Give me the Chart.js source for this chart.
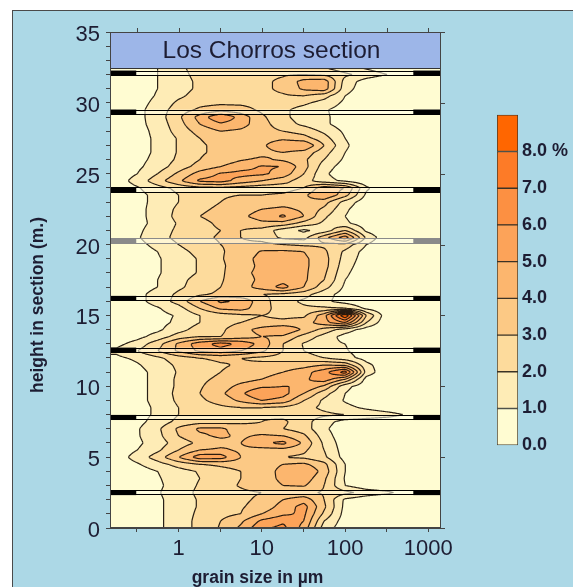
<!DOCTYPE html>
<html lang="en">
<head>
<meta charset="UTF-8">
<title>Los Chorros section</title>
<script src="https://cdn.jsdelivr.net/npm/chart.js"></script>
<style>
  body { margin: 0; background: #fff; font-family: "Liberation Sans", Arial, sans-serif; }
  .panel { position: absolute; left: 12px; top: 10px; width: 600px; height: 620px; background: #acd8e6; border: 1px solid #4a4a4a; }
  #grain { position: absolute; left: 12px; top: 10px; }
  #scale { position: absolute; left: 497px; top: 100px; }
</style>
</head>
<body>
<div class="panel"></div>
<canvas id="grain" width="460" height="577"></canvas>
<canvas id="scale" width="76" height="360"></canvas>
<script>
// sample heights (m) and grain size classes (µm)
const heights = [0, 0.5, 1, 1.5, 2, 2.5, 3, 3.5, 4, 4.5, 5, 5.5, 6, 6.5, 7, 7.5, 8, 8.5, 9, 9.5,
  10, 10.5, 11, 11.5, 12, 12.5, 13, 13.5, 14, 14.5, 15, 15.5, 16, 16.5, 17, 17.5, 18, 18.5, 19, 19.5,
  20, 20.5, 21, 21.5, 22, 22.5, 23, 23.5, 24, 24.5, 25, 25.5, 26, 26.5, 27, 27.5, 28, 28.5, 29, 29.5,
  30, 30.5, 31, 31.5, 32, 32.5];
const grainSize = [0.18, 0.32, 0.56, 1, 1.8, 3.2, 5.6, 10, 18, 32, 56, 100, 180, 320, 560, 1000];

// volume percent per height (rows) and grain size class (columns)
const percent = [
  [0.2,0.4,0.8,1.5,2.3,3.1,4.2,5.8,6.3,4.6,1.5,0.4,0.2,0.1,0,0],
  [0.2,0.4,0.8,1.5,2.3,3.0,3.8,5.2,5.8,5.0,2.0,0.5,0.2,0.1,0,0],
  [0.2,0.4,0.8,1.5,2.2,2.7,3.0,4.0,4.8,5.2,2.8,0.6,0.2,0.1,0,0],
  [0.2,0.4,0.8,1.5,2.1,2.5,2.9,3.4,4.4,5.4,3.2,0.7,0.2,0.1,0,0],
  [0.2,0.4,0.8,1.5,2.1,2.5,2.8,3.2,4.0,4.6,3.0,0.8,0.3,0.1,0,0],
  [0.3,0.5,0.9,1.6,2.2,2.6,2.8,3.0,3.2,3.2,2.9,2.3,1.6,1.2,0.6,0.1],
  [0.2,0.4,0.8,1.5,2.1,2.6,3.1,3.6,4.0,4.1,3.0,1.0,0.3,0.1,0,0],
  [0.2,0.4,0.9,1.5,2.0,2.5,3.0,3.6,4.2,4.6,3.2,0.9,0.2,0,0,0],
  [0.3,0.5,1.0,1.6,2.1,2.6,3.0,3.5,4.3,5.0,3.6,1.0,0.2,0,0,0],
  [0.4,0.9,1.6,2.4,3.0,3.2,3.4,3.6,4.0,4.2,3.3,1.0,0.2,0,0,0],
  [0.5,1.4,2.5,4.0,5.6,5.5,4.0,3.2,3.0,2.8,2.2,0.6,0.1,0,0,0],
  [0.4,1.0,1.8,3.0,4.0,4.2,3.8,3.6,3.6,3.2,2.0,0.5,0.1,0,0,0],
  [0.4,0.8,1.5,2.5,3.2,3.6,4.0,4.8,5.3,3.8,1.8,0.4,0.1,0,0,0],
  [0.4,0.9,1.7,3.0,3.8,4.2,3.8,4.2,4.0,3.2,1.5,0.3,0,0,0,0],
  [0.4,0.9,1.8,3.2,4.2,4.2,3.5,3.2,3.0,2.5,1.2,0.3,0,0,0,0],
  [0.3,0.7,1.4,2.3,2.6,2.6,2.8,3.0,3.2,2.4,1.4,0.6,0.4,0.3,0.2,0],
  [0.3,0.6,1.2,2.0,2.4,2.6,2.9,2.9,2.7,2.4,2.2,2.0,1.7,1.4,0.9,0.2],
  [0.3,0.6,1.2,2.0,2.5,2.8,3.0,3.0,2.8,2.3,1.8,1.3,0.8,0.4,0.1,0],
  [0.3,0.7,1.3,2.2,2.8,3.4,4.2,5.0,4.6,3.0,1.8,0.9,0.3,0,0,0],
  [0.3,0.7,1.3,2.3,3.0,3.8,4.8,6.0,5.4,4.0,2.4,1.0,0.3,0,0,0],
  [0.3,0.7,1.3,2.2,2.9,3.5,4.3,4.8,5.0,5.0,3.8,1.3,0.4,0.1,0,0],
  [0.3,0.7,1.3,2.2,2.8,3.2,3.6,4.0,4.5,4.8,5.6,4.0,0.6,0.1,0,0],
  [0.3,0.7,1.3,2.1,2.6,3.0,3.3,3.6,4.0,4.6,5.6,7.6,1.6,0.2,0,0],
  [0.4,0.9,1.5,2.2,2.6,2.9,3.1,3.2,3.4,3.6,4.0,3.8,1.3,0.3,0,0],
  [0.8,1.2,1.8,2.5,3.0,3.2,3.0,2.8,2.6,2.4,2.0,1.4,0.6,0.1,0,0],
  [1.2,2.0,3.0,4.2,5.2,5.6,5.0,4.2,3.0,2.0,1.5,1.1,0.5,0.1,0,0],
  [0.7,1.4,2.6,4.2,5.6,6.4,5.8,4.6,3.0,1.9,1.3,1.0,0.4,0,0,0],
  [0.3,0.7,1.4,2.5,3.0,3.0,3.5,4.0,3.8,2.6,1.6,0.6,0.2,0,0,0],
  [0.2,0.5,0.8,1.6,2.5,2.8,3.6,4.4,5.0,3.8,2.6,1.5,0.5,0,0,0],
  [0.2,0.4,0.7,1.2,2.0,2.6,3.0,3.2,3.2,3.5,4.6,6.0,2.0,0.2,0,0],
  [0.2,0.4,0.7,1.1,2.0,2.5,2.8,3.0,2.8,2.8,4.6,9.0,3.0,0.3,0,0],
  [0.2,0.5,0.9,1.6,3.0,4.2,4.4,3.4,2.5,2.2,2.2,2.0,0.8,0.1,0,0],
  [0.3,0.7,1.4,2.4,4.0,5.2,4.8,3.4,2.4,1.8,1.2,0.6,0.2,0,0,0],
  [0.3,0.7,1.4,2.2,2.8,3.2,3.2,3.0,2.8,2.4,1.4,0.6,0.2,0,0,0],
  [0.2,0.5,1.0,1.8,2.5,3.0,3.6,4.4,5.4,4.0,2.4,0.8,0.2,0,0,0],
  [0.2,0.5,1.0,1.7,2.4,2.9,3.6,4.2,4.6,4.2,3.0,1.0,0.3,0,0,0],
  [0.2,0.4,0.9,1.5,2.1,2.8,3.8,4.2,4.2,4.2,3.2,1.2,0.3,0,0,0],
  [0.2,0.4,0.9,1.5,2.1,2.8,3.6,4.2,4.3,4.2,3.4,1.4,0.4,0,0,0],
  [0.2,0.4,0.9,1.5,2.1,2.9,3.6,4.3,4.3,4.2,3.4,1.6,0.5,0,0,0],
  [0.3,0.5,1.0,1.7,2.3,2.9,3.4,4.1,4.2,4.0,3.2,1.8,0.6,0.1,0,0],
  [0.3,0.7,1.3,2.0,2.6,3.0,3.2,3.3,3.0,2.8,2.8,2.6,1.0,0.1,0,0],
  [0.4,0.9,1.6,2.3,2.8,3.1,3.0,2.6,1.8,1.6,3.6,5.6,1.8,0.2,0,0],
  [0.3,0.8,1.5,2.2,2.7,3.0,3.0,2.6,1.5,0.8,1.4,3.0,0.8,0.1,0,0],
  [0.3,0.7,1.3,2.1,2.7,3.2,3.4,3.8,3.6,2.6,1.8,1.2,0.4,0,0,0],
  [0.3,0.7,1.4,2.3,3.0,3.4,3.8,4.4,5.2,4.0,2.2,1.0,0.2,0,0,0],
  [0.3,0.7,1.4,2.2,2.8,3.2,3.6,4.0,4.2,3.8,2.8,1.2,0.2,0,0,0],
  [0.3,0.7,1.3,2.0,2.6,3.0,3.3,3.4,3.6,3.8,3.4,1.6,0.4,0,0,0],
  [0.3,0.7,1.3,2.0,2.6,2.9,3.0,3.0,3.2,3.8,5.0,3.4,0.8,0,0,0],
  [0.4,0.9,1.6,2.3,2.7,2.8,2.6,2.4,2.4,3.0,4.6,4.0,1.2,0.1,0,0],
  [0.5,1.4,2.6,3.8,5.2,5.4,4.6,4.0,3.4,2.4,1.4,0.8,0.2,0,0,0],
  [0.4,1.0,2.0,3.2,4.4,5.1,5.3,5.2,4.6,3.0,1.2,0.3,0,0,0,0],
  [0.3,0.8,1.5,2.5,3.4,4.0,4.6,5.1,5.0,3.4,1.5,0.5,0.1,0,0,0],
  [0.3,0.7,1.3,2.2,3.0,3.4,3.9,4.2,3.8,3.2,2.0,0.8,0.2,0,0,0],
  [0.3,0.6,1.2,2.1,2.9,3.2,3.4,3.7,4.0,3.6,2.4,1.0,0.2,0,0,0],
  [0.3,0.6,1.2,2.1,2.9,3.2,3.4,3.8,4.8,5.0,3.0,1.2,0.2,0,0,0],
  [0.3,0.6,1.2,2.1,3.0,3.3,3.4,3.6,3.8,3.4,2.4,1.0,0.2,0,0,0],
  [0.3,0.6,1.3,2.4,3.4,4.0,3.8,3.4,3.0,2.6,1.8,0.8,0.1,0,0,0],
  [0.3,0.7,1.4,2.6,4.0,4.8,4.4,3.4,2.4,1.8,1.2,0.5,0.1,0,0,0],
  [0.3,0.7,1.5,2.8,4.4,6.0,4.6,3.2,2.2,1.6,1.2,0.5,0.1,0,0,0],
  [0.3,0.7,1.5,2.5,3.2,3.6,3.4,2.8,2.2,1.6,1.1,0.6,0.1,0,0,0],
  [0.2,0.6,1.3,2.2,2.7,2.8,2.8,2.7,2.5,2.2,1.6,0.8,0.2,0,0,0],
  [0.2,0.5,1.1,1.8,2.4,2.6,2.7,2.8,2.9,3.0,2.4,1.0,0.3,0,0,0],
  [0.2,0.5,1.0,1.6,2.2,2.5,2.6,2.8,3.2,4.2,4.6,1.4,0.4,0,0,0],
  [0.2,0.5,1.0,1.6,2.2,2.5,2.6,2.8,3.2,4.4,4.6,1.6,0.5,0,0,0],
  [0.2,0.5,1.0,1.7,2.3,2.6,2.7,2.8,2.9,3.0,2.8,2.2,1.6,1.0,0.3,0],
  [0.2,0.5,1.0,1.8,2.4,2.6,2.6,2.6,2.6,2.4,2.0,1.4,0.8,0.3,0,0]
];

// contour classes (% steps) and their fills
const levelBounds = [0, 1, 2, 3, 4, 5, 6, 7, 8, 9];
const levelColors = ['#fffcd2', '#feecb6', '#fddb9c', '#fcc985', '#fcb66e', '#fca359', '#fc9042', '#fd7b27', '#ff6600'];
const scaleLabels = { 0: '0.0', 1: '1.0', 2: '2.0', 3: '3.0', 4: '4.0', 5: '5.0', 6: '6.0', 7: '7.0', 8: '8.0 %' };

// sample breaks marked across the section
const bedHeights = [2.5, 7.8, 12.55, 16.2, 23.85, 29.35, 32.1];
const greyBedHeights = [20.25];
const bedHalf = 0.18;
const bedMarkLeft = 0.31, bedMarkRight = 660;

const xTicks = [0.316, 1, 3.16, 10, 31.6, 100, 316, 1000];
const xLabels = [1, 10, 100, 1000];
const titleBottom = 32.45;

const ink = '#1d1d33';
const family = '"Liberation Sans", Arial, sans-serif';

function bracket(arr, v) {
  const n = arr.length;
  if (v <= arr[0]) return [0, 0];
  if (v >= arr[n - 1]) return [n - 2, 1];
  let k = 0;
  while (arr[k + 1] < v) k++;
  return [k, (v - arr[k]) / (arr[k + 1] - arr[k])];
}

function hexRgb(h) {
  return [parseInt(h.slice(1, 3), 16), parseInt(h.slice(3, 5), 16), parseInt(h.slice(5, 7), 16)];
}

const contourPlugin = {
  id: 'contour',
  beforeDatasetsDraw(chart) {
    const { ctx, chartArea: a, scales: { x, y } } = chart;
    const w = Math.round(a.right - a.left), h = Math.round(a.bottom - a.top);
    const off = document.createElement('canvas');
    off.width = w; off.height = h;
    const octx = off.getContext('2d');
    const img = octx.createImageData(w, h);
    const logs = grainSize.map(v => Math.log10(v));
    const cols = [], rows = [];
    for (let i = 0; i < w; i++) cols.push(bracket(logs, Math.log10(x.getValueForPixel(a.left + i + 0.5))));
    for (let j = 0; j < h; j++) rows.push(bracket(heights, y.getValueForPixel(a.top + j + 0.5)));

    // interpolated value at every pixel centre
    const val = new Float32Array(w * h);
    for (let j = 0; j < h; j++) {
      const [r, ty] = rows[j];
      const p0 = percent[r], p1 = percent[r + 1];
      for (let i = 0; i < w; i++) {
        const [c, tx] = cols[i];
        val[j * w + i] = (1 - ty) * ((1 - tx) * p0[c] + tx * p0[c + 1]) + ty * ((1 - tx) * p1[c] + tx * p1[c + 1]);
      }
    }

    // filled classes
    const rgb = levelColors.map(hexRgb);
    for (let k = 0; k < w * h; k++) {
      let l = 0;
      while (l < rgb.length - 1 && val[k] >= levelBounds[l + 1]) l++;
      const c = rgb[l];
      img.data[k * 4] = c[0]; img.data[k * 4 + 1] = c[1]; img.data[k * 4 + 2] = c[2]; img.data[k * 4 + 3] = 255;
    }
    octx.putImageData(img, 0, 0);
    ctx.drawImage(off, a.left, a.top, w, h);

    // contour lines (marching squares on the pixel grid)
    ctx.save();
    ctx.beginPath();
    ctx.rect(a.left, a.top, a.right - a.left, a.bottom - a.top);
    ctx.clip();
    ctx.strokeStyle = 'rgba(30,20,12,0.95)';
    ctx.lineWidth = 1.2;
    ctx.beginPath();
    const ox = a.left + 0.5, oy = a.top + 0.5;
    for (let li = 1; li < levelBounds.length; li++) {
      const t = levelBounds[li];
      for (let j = 0; j < h - 1; j++) {
        for (let i = 0; i < w - 1; i++) {
          const k = j * w + i;
          const v0 = val[k], v1 = val[k + 1], v2 = val[k + w + 1], v3 = val[k + w];
          const s0 = v0 >= t, s1 = v1 >= t, s2 = v2 >= t, s3 = v3 >= t;
          if (s0 === s1 && s1 === s2 && s2 === s3) continue;
          const pts = [];
          if (s0 !== s1) pts.push([i + (t - v0) / (v1 - v0), j]);
          if (s1 !== s2) pts.push([i + 1, j + (t - v1) / (v2 - v1)]);
          if (s3 !== s2) pts.push([i + (t - v3) / (v2 - v3), j + 1]);
          if (s0 !== s3) pts.push([i, j + (t - v0) / (v3 - v0)]);
          for (let p = 0; p + 1 < pts.length; p += 2) {
            ctx.moveTo(ox + pts[p][0], oy + pts[p][1]);
            ctx.lineTo(ox + pts[p + 1][0], oy + pts[p + 1][1]);
          }
        }
      }
    }
    ctx.stroke();
    ctx.restore();
  }
};

function drawBed(ctx, a, x, y, hgt, color) {
  const yt = y.getPixelForValue(hgt + bedHalf), yb = y.getPixelForValue(hgt - bedHalf);
  const xl = x.getPixelForValue(bedMarkLeft), xr = x.getPixelForValue(bedMarkRight);
  ctx.fillStyle = 'rgba(255,255,235,0.55)';
  ctx.fillRect(a.left, yt, a.right - a.left, yb - yt);
  ctx.fillStyle = color;
  ctx.fillRect(a.left, yt, xl - a.left, yb - yt);
  ctx.fillRect(xr, yt, a.right - xr, yb - yt);
  ctx.strokeStyle = color;
  ctx.lineWidth = 1;
  ctx.beginPath();
  ctx.moveTo(a.left, Math.round(yt) + 0.5); ctx.lineTo(a.right, Math.round(yt) + 0.5);
  ctx.moveTo(a.left, Math.round(yb) - 0.5); ctx.lineTo(a.right, Math.round(yb) - 0.5);
  ctx.stroke();
}

const overlayPlugin = {
  id: 'overlay',
  afterDraw(chart) {
    const { ctx, chartArea: a, scales: { x, y } } = chart;
    ctx.save();
    bedHeights.forEach(hh => drawBed(ctx, a, x, y, hh, '#000'));
    greyBedHeights.forEach(hh => drawBed(ctx, a, x, y, hh, '#8a8a8a'));

    // title box
    const tb = y.getPixelForValue(titleBottom);
    ctx.fillStyle = '#9db6e8';
    ctx.fillRect(a.left, a.top, a.right - a.left, tb - a.top);
    ctx.strokeStyle = '#333';
    ctx.beginPath();
    ctx.moveTo(a.left, Math.round(tb) + 0.5); ctx.lineTo(a.right, Math.round(tb) + 0.5);
    ctx.stroke();
    ctx.fillStyle = ink;
    ctx.font = '24.5px ' + family;
    ctx.textAlign = 'center';
    ctx.textBaseline = 'middle';
    ctx.fillText('Los Chorros section', (a.left + a.right) / 2 - 4, (a.top + tb) / 2 + 1);

    // axis titles, set off-centre as in the original figure
    ctx.font = 'bold 17.5px ' + family;
    ctx.fillText('grain size in µm', (a.left + a.right) / 2 - 18, a.bottom + 50);
    ctx.save();
    ctx.translate(a.left - 72, (a.top + a.bottom) / 2 + 25);
    ctx.rotate(-Math.PI / 2);
    ctx.fillText('height in section (m.)', 0, 0);
    ctx.restore();

    // frame and mirrored ticks
    ctx.strokeStyle = '#444';
    ctx.lineWidth = 1;
    ctx.strokeRect(Math.round(a.left) + 0.5, Math.round(a.top) + 0.5, Math.round(a.right - a.left) - 1, Math.round(a.bottom - a.top) - 1);
    ctx.beginPath();
    x.ticks.forEach(t => {
      const px = Math.round(x.getPixelForValue(t.value)) + 0.5;
      ctx.moveTo(px, a.top); ctx.lineTo(px, a.top - 4);
    });
    y.ticks.forEach(t => {
      if (t.value % 5 !== 0) return;
      const py = Math.round(y.getPixelForValue(t.value)) + 0.5;
      ctx.moveTo(a.right, py); ctx.lineTo(a.right + 4, py);
    });
    ctx.stroke();
    ctx.restore();
  }
};

new Chart(document.getElementById('grain'), {
  type: 'scatter',
  data: { datasets: [{ label: 'grain size', data: [] }] },
  options: {
    responsive: false,
    animation: false,
    layout: { padding: { top: 22, right: 31, left: 0, bottom: 0 } },
    plugins: { legend: { display: false }, tooltip: { enabled: false } },
    scales: {
      x: {
        type: 'logarithmic',
        min: 0.15,
        max: 1420,
        afterBuildTicks: s => { s.ticks = xTicks.map(v => ({ value: v })); },
        afterFit: s => { s.height = 59; },
        ticks: {
          autoSkip: false, maxRotation: 0, padding: 4, color: ink,
          font: { size: 22, family },
          callback: v => xLabels.includes(v) ? String(v) : ''
        },
        grid: { drawOnChartArea: false, tickLength: 4, color: '#444' },
        border: { color: '#444' }
      },
      y: {
        min: 0,
        max: 35,
        afterFit: s => { s.width = 98; },
        ticks: {
          stepSize: 1, autoSkip: false, padding: 6, labelOffset: 3, color: ink,
          font: { size: 22, family },
          callback: v => v % 5 === 0 ? String(v) : ''
        },
        grid: { drawOnChartArea: false, tickLength: 4, color: '#444' },
        border: { color: '#444' }
      }
    }
  },
  plugins: [contourPlugin, overlayPlugin]
});

new Chart(document.getElementById('scale'), {
  type: 'bar',
  data: {
    labels: ['%'],
    datasets: levelColors.map((c, i) => ({
      label: scaleLabels[i],
      data: [[levelBounds[i], levelBounds[i + 1]]],
      backgroundColor: c,
      borderColor: '#3b3326',
      borderWidth: 1,
      borderSkipped: false,
      grouped: false,
      barPercentage: 1,
      categoryPercentage: 1
    }))
  },
  options: {
    responsive: false,
    animation: false,
    layout: { padding: { top: 12, bottom: 13, left: 0, right: 0 } },
    plugins: { legend: { display: false }, tooltip: { enabled: false } },
    scales: {
      x: { display: false },
      y: {
        position: 'right', min: 0, max: 9,
        afterFit: s => { s.width = 55; },
        ticks: {
          stepSize: 1, padding: 4, color: ink,
          font: { size: 18, weight: 'bold', family },
          callback: v => scaleLabels[v] ?? ''
        },
        grid: { display: false, drawTicks: false },
        border: { display: false }
      }
    }
  }
});
</script>
</body>
</html>
